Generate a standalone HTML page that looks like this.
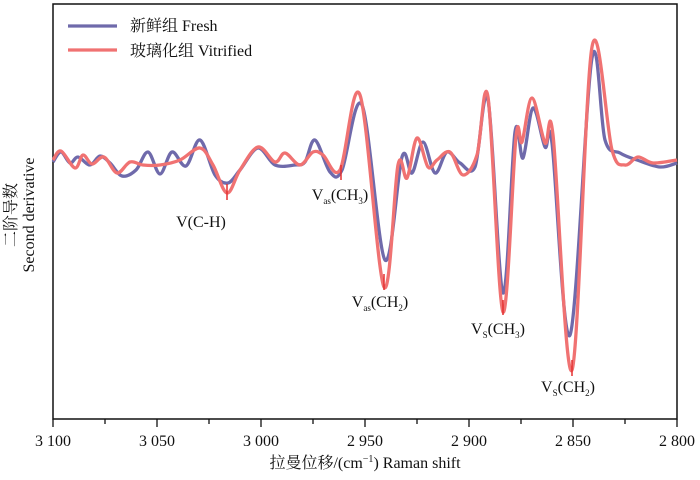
<!DOCTYPE html>
<html><head><meta charset="utf-8"><style>
body{margin:0;background:#fff;}
svg text{font-family:"Liberation Serif","Noto Serif CJK SC",serif;fill:#111;}
</style></head><body>
<svg id="s" width="700" height="475" xmlns="http://www.w3.org/2000/svg">
<rect x="53" y="4" width="624" height="415" fill="none" stroke="#111" stroke-width="1.5"/>
<g id="ticks" stroke="#111" stroke-width="1.3"></g>
<g font-size="16" text-anchor="middle">
<text x="53" y="446">3 100</text><text x="157" y="446">3 050</text><text x="261" y="446">3 000</text>
<text x="365" y="446">2 950</text><text x="469" y="446">2 900</text><text x="573" y="446">2 850</text><text x="677" y="446">2 800</text>
<text x="365" y="468">拉曼位移/(cm<tspan font-size="10" dy="-6">−1</tspan><tspan dy="6">) Raman shift</tspan></text>
</g>
<g font-size="16" text-anchor="middle">
<text transform="translate(16,215) rotate(-90)">二阶导数</text>
<text transform="translate(34,215) rotate(-90)">Second derivative</text>
</g>
<path id="b" fill="none" stroke="#6f6aab" stroke-width="3.3" stroke-linejoin="round"/>
<path id="r" fill="none" stroke="#f07272" stroke-width="3.3" stroke-linejoin="round"/>
<g stroke="#e43030" stroke-width="1.5">
<line x1="227" y1="184" x2="227" y2="200"/><line x1="341" y1="165" x2="341" y2="180"/>
<line x1="384" y1="274" x2="384" y2="290"/><line x1="503" y1="300" x2="503" y2="315"/>
<line x1="572" y1="360" x2="572" y2="376"/>
</g>
<g font-size="16" text-anchor="middle">
<text x="201" y="227">V(C-H)</text>
<text x="340" y="200">V<tspan font-size="9" dy="4">as</tspan><tspan dy="-4">(CH</tspan><tspan font-size="9" dy="4">3</tspan><tspan dy="-4">)</tspan></text>
<text x="380" y="307">V<tspan font-size="9" dy="4">as</tspan><tspan dy="-4">(CH</tspan><tspan font-size="9" dy="4">2</tspan><tspan dy="-4">)</tspan></text>
<text x="498" y="334">V<tspan font-size="9" dy="4">S</tspan><tspan dy="-4">(CH</tspan><tspan font-size="9" dy="4">3</tspan><tspan dy="-4">)</tspan></text>
<text x="568" y="392">V<tspan font-size="9" dy="4">S</tspan><tspan dy="-4">(CH</tspan><tspan font-size="9" dy="4">2</tspan><tspan dy="-4">)</tspan></text>
</g>
<line x1="68" y1="26" x2="117" y2="26" stroke="#6f6aab" stroke-width="3.3"/>
<line x1="68" y1="50" x2="117" y2="50" stroke="#f07272" stroke-width="3.3"/>
<g font-size="16"><text x="130" y="31">新鲜组 Fresh</text><text x="130" y="56">玻璃化组 Vitrified</text></g>
</svg>
<script>
var t=document.getElementById('ticks'),h='';
for(var i=0;i<=12;i++){var x=53+i*52;h+='<line x1="'+x+'" y1="419" x2="'+x+'" y2="'+(i%2?424:427)+'"/>';}
t.innerHTML=h;
function sm(p){var d='M'+p[0][0]+','+p[0][1];for(var i=0;i<p.length-1;i++){var a=p[i-1]||p[i],b=p[i],c=p[i+1],e=p[i+2]||c;
d+=' C'+(b[0]+(c[0]-a[0])/6)+','+(b[1]+(c[1]-a[1])/6)+' '+(c[0]-(e[0]-b[0])/6)+','+(c[1]-(e[1]-b[1])/6)+' '+c[0]+','+c[1];}return d;}
var B=[[53,162],[61,152],[70,163],[78,157],[90,165],[100,156],[110,163],[122,176],[136,170],[148,152],[160,174],[172,152],[186,166],[200,140],[215,175],[228,183],[240,170],[258,148],[275,165],[295,165],[305,162],[315,140],[330,172],[342,170],[362,105],[385,260],[402,157],[412,173],[423,142],[435,173],[447,152],[460,163],[475,167],[488,100],[503,293],[515,132],[523,158],[533,108],[545,147],[552,143],[570,335],[592,58],[605,140],[620,153],[637,160],[660,167],[677,163]];
var R=[[53,160],[61,151],[75,168],[83,155],[92,164],[104,157],[117,173],[130,162],[143,165],[160,165],[180,160],[200,148],[213,165],[227,193],[240,170],[258,147],[275,162],[285,153],[300,165],[313,152],[323,155],[340,170],[360,95],[384,287],[398,165],[407,178],[417,138],[428,167],[437,160],[450,152],[463,175],[477,155],[488,97],[503,312],[516,137],[522,142],[532,98],[545,143],[553,135],[572,370],[592,47],[612,150],[625,165],[638,157],[653,163],[677,160]];
document.getElementById('b').setAttribute('d',sm(B));
document.getElementById('r').setAttribute('d',sm(R));
</script>
</body></html>
